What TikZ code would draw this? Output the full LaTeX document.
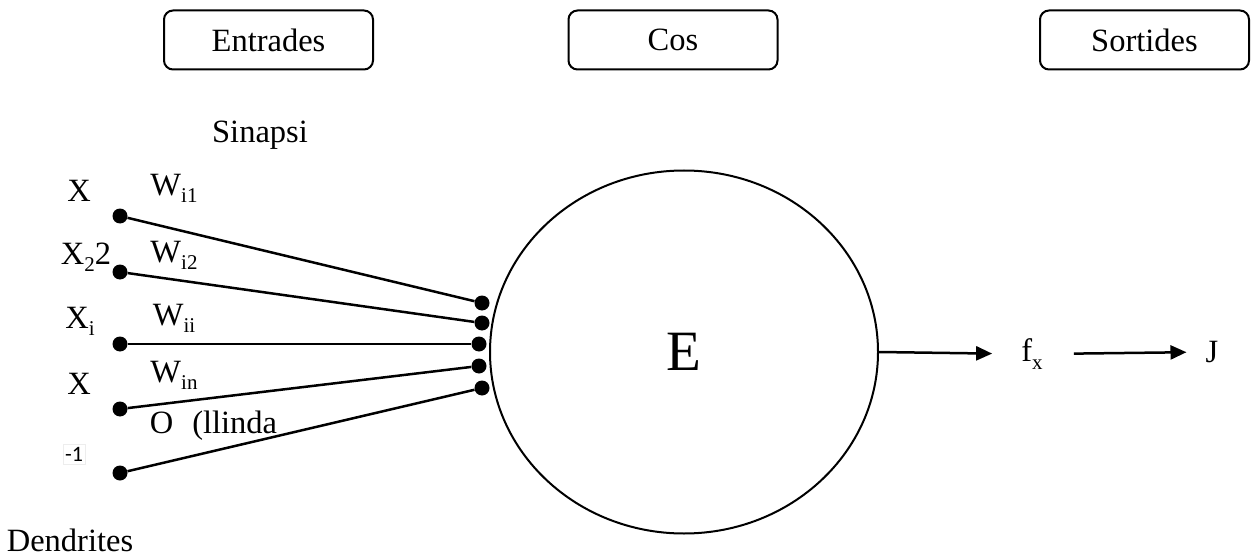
\documentclass[tikz,border=0pt]{standalone}
\usepackage{fontspec}
\setmainfont{Liberation Serif}
\newfontfamily\calfont{Carlito}
\usetikzlibrary{shapes.geometric,arrows.meta}
% small lowered index, as set by a word processor
\newcommand\lowidx[1]{\raisebox{-0.22em}{\fontsize{21}{21}\selectfont #1}}

\begin{document}
\begin{tikzpicture}[x=1pt,y=-1pt,
  every node/.style={font=\fontsize{32.5}{38}\selectfont},
  header/.style={draw, line width=2pt, rounded corners=9pt,
                 minimum width=209pt, minimum height=59pt, inner sep=0pt},
  pin/.style={circle, fill=black, inner sep=0pt, minimum size=15pt},
  wire/.style={line width=2.5pt},
  lbl/.style={inner sep=0pt},
  arr/.style={line width=2.5pt, -{Triangle[length=16pt,width=14pt]}}]

\useasboundingbox (0,0) rectangle (1251,559);

% column headers
\node[header] (hin)  at (268.5,40)  {Entrades};
\node[header] (hbody) at (673,40)   {Cos};
\node[header] (hout) at (1144.5,40) {Sortides};

% cell body
\node[draw, ellipse, line width=2pt, minimum width=388pt, minimum height=363pt,
      inner sep=0pt] (soma) at (684,352) {\fontsize{57}{60}\selectfont E};

% input terminals
\node[pin] (in1) at (120,216) {};
\node[pin] (in2) at (120,272) {};
\node[pin] (in3) at (120,344) {};
\node[pin] (in4) at (120,409) {};
\node[pin] (in5) at (120,473) {};

% synapse terminals on the body
\node[pin] (sy1) at (482,303) {};
\node[pin] (sy2) at (482,323) {};
\node[pin] (sy3) at (479,344) {};
\node[pin] (sy4) at (479,366) {};
\node[pin] (sy5) at (482,388) {};

\draw[wire] (in1) -- (sy1);
\draw[wire] (in2) -- (sy2);
\draw[wire] (in3) -- (sy3);
\draw[wire] (in4) -- (sy4);
\draw[wire] (in5) -- (sy5);

% input labels
\node[lbl] (x1) at (79,191) {X};
\node[lbl] (x2) at (86,257) {X\lowidx{2}2};
\node[lbl] (xi) at (80,321) {X\lowidx{i}};
\node[lbl] (xn) at (79,384) {X};
\node[draw=black!7, line width=0.6pt, inner xsep=2pt, inner ysep=3pt]
     (bias) at (74,454) {\calfont\fontsize{22}{24}\selectfont -1};

% weight labels
\node[lbl] (w1) at (174,188) {W\lowidx{i1}};
\node[lbl] (w2) at (174,255) {W\lowidx{i2}};
\node[lbl] (wi) at (174,318) {W\lowidx{ii}};
\node[lbl] (wn) at (174,375) {W\lowidx{in}};
\node[lbl] (thr) at (213.5,426) {O\hspace{19pt}(llinda};

\node[lbl] (syn) at (260,135) {Sinapsi};
\node[lbl] (den) at (70,540)  {Dendrites};

% output side
\node[lbl] (fx) at (1032,354) {f\lowidx{x}};
\node[lbl] (out) at (1212,352) {J};

\draw[arr, shorten >=29pt] (soma.east) -- (fx.west);
\draw[arr, shorten <=31pt, shorten >=19pt] (fx.east) -- (out.west);
\end{tikzpicture}
\end{document}
